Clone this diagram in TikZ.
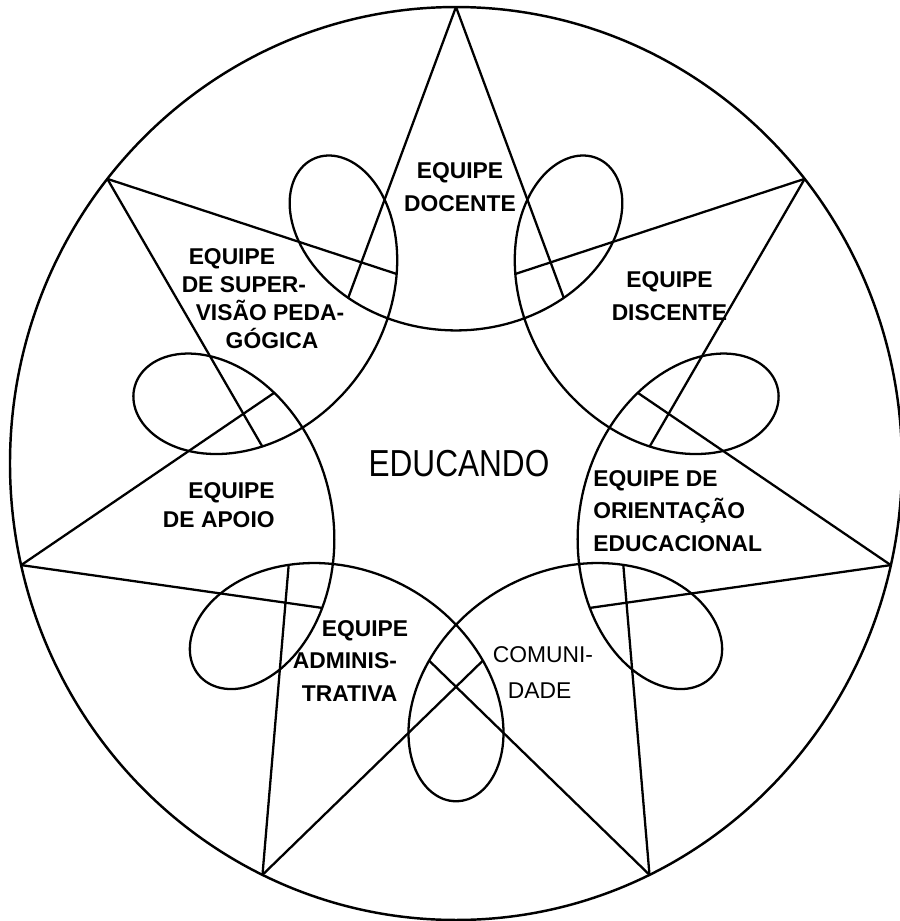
\documentclass[tikz,border=0pt]{standalone}
\usepackage{fontspec}
\setmainfont{Liberation Sans}
\tikzset{
  rim/.style={line width=1.4pt},
  starline/.style={line width=1.3pt},
  loopcurve/.style={line width=1.3pt},
  teamlabel/.style={inner sep=0pt, font=\bfseries\fontsize{13}{18.7}\selectfont},
}

\begin{document}
\begin{tikzpicture}[x=0.02cm, y=0.02cm]
  \useasboundingbox (-456,-457.5) rectangle (444,463.5);

  % Ring, seven-pointed star and the looped curve round the centre
  \begin{scope}[yscale=1.0235]
    \draw[rim] (0,0) circle (446);
    \draw[loopcurve] plot[domain=0:360, samples=721]
      ({230*cos(\x-90)+100*cos(6*\x+90)}, {230*sin(\x-90)-100*sin(6*\x+90)});
    \foreach \k in {0,...,6} {
      \pgfmathsetmacro\a{-90+\k*360/7}
      \coordinate (tipA-\k) at ({\a+360/14}:446);
      \coordinate (tipB-\k) at ({\a-360/14}:446);
      \coordinate (endA-\k) at ({\a-7.92}:194.5);
      \coordinate (endB-\k) at ({\a+7.92}:194.5);
      \draw[starline] (tipA-\k) -- (endA-\k);
      \draw[starline] (tipB-\k) -- (endB-\k);
    }
  \end{scope}

  % Centre
  \node[inner sep=0pt, font=\fontsize{21.4}{24}\selectfont] (educando) at (3,0)
    {\scalebox{0.84}[1]{EDUCANDO}};

  % Teams, clockwise from the top
  \node[teamlabel, align=center] (docente) at (4,276.5) {EQUIPE\\DOCENTE};
  \node[teamlabel, align=center] (discente) at (213.5,167.5) {EQUIPE\\DISCENTE};
  \node[teamlabel, align=left, anchor=west] (orientacao) at (137,-47.5)
    {EQUIPE DE\\ORIENTAÇÃO\\EDUCACIONAL};
  \node[inner sep=0pt, align=left, font=\fontsize{13}{20.4}\selectfont] (comunidade) at (87,-209)
    {COMUNI-\\\hspace*{0.3cm}DADE};
  \node[teamlabel, align=left] (administrativa) at (-105.5,-197.5)
    {\hspace*{0.58cm}EQUIPE\\ADMINIS-\\\hspace*{0.18cm}TRATIVA};
  \node[teamlabel, align=right, anchor=east, font=\bfseries\fontsize{13}{16.4}\selectfont] (apoio) at (-181,-42)
    {EQUIPE\\DE APOIO};
  \node[teamlabel, align=left, font=\bfseries\fontsize{13}{15.9}\selectfont] (supervisao) at (-193,164.5)
    {\hspace*{0.14cm}EQUIPE\\DE SUPER-\\\hspace*{0.28cm}VISÃO PEDA-\\\hspace*{0.88cm}GÓGICA};
\end{tikzpicture}
\end{document}
